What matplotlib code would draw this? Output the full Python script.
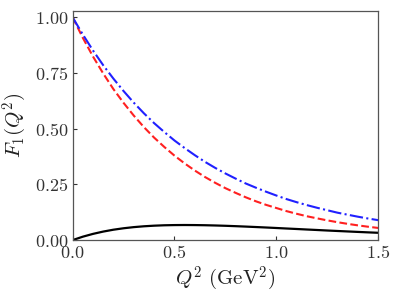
import numpy as np
import matplotlib
matplotlib.use('Agg')
import matplotlib.pyplot as plt
from matplotlib.ticker import FuncFormatter

# --- Data ---
q2 = [0.00, 0.05, 0.10, 0.15, 0.20, 0.25, 0.30, 0.35, 0.40, 0.45, 0.50,
      0.55, 0.60, 0.65, 0.70, 0.75, 0.80, 0.85, 0.90, 0.95, 1.00,
      1.05, 1.10, 1.15, 1.20, 1.25, 1.30, 1.35, 1.40, 1.45, 1.50]

f1_black = [0.0, 0.0153, 0.0279, 0.0382, 0.0466, 0.0531, 0.0582, 0.0620, 0.0647, 0.0665, 0.0674,
            0.0677, 0.0674, 0.0667, 0.0656, 0.0642, 0.0625, 0.0606, 0.0586, 0.0565, 0.0543,
            0.0520, 0.0498, 0.0475, 0.0453, 0.0430, 0.0409, 0.0388, 0.0367, 0.0347, 0.0328]

f1_red = [1.000, 0.908, 0.824, 0.748, 0.678, 0.616, 0.559, 0.507, 0.460, 0.418, 0.379,
          0.344, 0.312, 0.283, 0.257, 0.233, 0.212, 0.192, 0.174, 0.158, 0.144,
          0.130, 0.118, 0.107, 0.0975, 0.0885, 0.0803, 0.0729, 0.0661, 0.0600, 0.0545]

f1_blue = [1.000, 0.923, 0.851, 0.785, 0.725, 0.669, 0.617, 0.569, 0.525, 0.485, 0.447,
           0.413, 0.381, 0.351, 0.324, 0.299, 0.276, 0.254, 0.235, 0.217, 0.200,
           0.184, 0.170, 0.157, 0.145, 0.134, 0.123, 0.114, 0.105, 0.0969, 0.0894]

x_ticks = [0.0, 0.5, 1.0, 1.5]
y_ticks = [0.00, 0.25, 0.50, 0.75, 1.00]

plt.rcParams['mathtext.fontset'] = 'cm'
plt.rcParams['font.family'] = 'serif'

fig = plt.figure(figsize=(3.99, 2.99), dpi=100)
ax = fig.add_axes([0.182, 0.197, 0.766, 0.766])

ax.plot(q2, f1_black, color='black', lw=1.6, ls='-')
ax.plot(q2, f1_red, color='#ff2020', lw=1.5, ls='--')
ax.plot(q2, f1_blue, color='#2020ff', lw=1.5, ls='-.')

ax.set_xlim(0, 1.5)
ax.set_ylim(0, 1.028)
ax.set_xticks(x_ticks)
ax.set_yticks(y_ticks)
ax.xaxis.set_major_formatter(FuncFormatter(lambda v, p: r'$%.1f$' % v))
ax.yaxis.set_major_formatter(FuncFormatter(lambda v, p: r'$%.2f$' % v))
ax.tick_params(direction='in', length=3, width=0.8, labelsize=13,
               colors='#333333', pad=3)
for s in ax.spines.values():
    s.set_color('#555555')
    s.set_linewidth(0.9)

ax.set_xlabel(r'$Q^2\ (\mathrm{GeV}^2)$', fontsize=15, color='#222222', labelpad=2)
ax.set_ylabel(r'$F_1(Q^2)$', fontsize=15, color='#222222', labelpad=4)

fig.savefig('out.png', dpi=100)
